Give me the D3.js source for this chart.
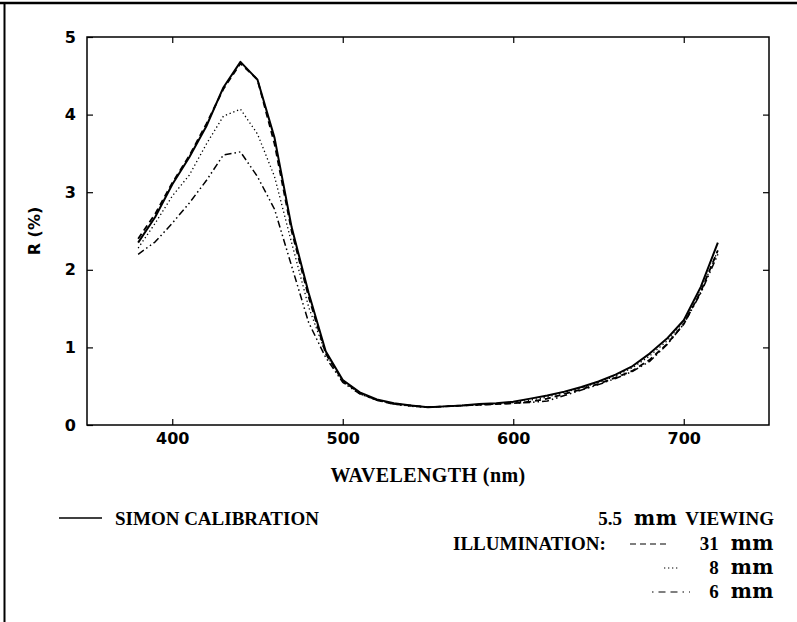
<!DOCTYPE html>
<html>
<head>
<meta charset="utf-8">
<script src="https://cdn.jsdelivr.net/npm/d3@7"></script>
<style>
  body { margin: 0; background: #fff; }
  svg { display: block; }
</style>
</head>
<body>
<div id="chart"></div>
<script>
// wavelength samples (nm)
const wavelengths = [380, 390, 400, 410, 420, 430, 440, 450, 460, 470, 480, 490, 500, 510, 520, 530, 540, 550,
    560, 570, 580, 590, 600, 610, 620, 630, 640, 650, 660, 670, 680, 690, 700, 710, 720];

// reflectance R (%)
const simonCalibration = [2.35, 2.68, 3.10, 3.45, 3.85, 4.35, 4.68, 4.45, 3.70, 2.55, 1.70, 0.95, 0.58, 0.42, 0.33, 0.28, 0.25, 0.23,
    0.24, 0.25, 0.27, 0.28, 0.30, 0.34, 0.38, 0.43, 0.49, 0.56, 0.65, 0.76, 0.92, 1.11, 1.35, 1.78, 2.35];
const illum31mm = [2.40, 2.72, 3.12, 3.47, 3.88, 4.33, 4.66, 4.45, 3.62, 2.50, 1.65, 0.92, 0.57, 0.41, 0.32, 0.27, 0.25, 0.23,
    0.24, 0.25, 0.26, 0.27, 0.28, 0.30, 0.34, 0.40, 0.46, 0.53, 0.61, 0.70, 0.84, 1.04, 1.30, 1.72, 2.25];
const illum8mm = [2.28, 2.60, 2.95, 3.22, 3.62, 3.98, 4.07, 3.75, 3.20, 2.35, 1.52, 0.92, 0.56, 0.40, 0.32, 0.27, 0.24, 0.23,
    0.24, 0.25, 0.26, 0.27, 0.29, 0.32, 0.36, 0.42, 0.48, 0.55, 0.63, 0.74, 0.89, 1.08, 1.33, 1.72, 2.25];
const illum6mm = [2.20, 2.36, 2.60, 2.86, 3.15, 3.48, 3.52, 3.20, 2.78, 2.05, 1.32, 0.87, 0.55, 0.40, 0.32, 0.27, 0.25, 0.23,
    0.24, 0.25, 0.26, 0.27, 0.28, 0.29, 0.31, 0.38, 0.45, 0.52, 0.60, 0.69, 0.82, 1.03, 1.30, 1.70, 2.20];

// tick labels
const xTicks = [400, 500, 600, 700];
const yTicks = [0, 1, 2, 3, 4, 5];

const width = 797, height = 622;
const margin = {left: 87, right: 28, top: 37, bottom: 197};

const svg = d3.select("#chart")
    .append("svg")
    .attr("width", width)
    .attr("height", height);

//Outer page frame (top and left edges only)
svg.append("line").attr("x1", 0).attr("x2", width).attr("y1", 3).attr("y2", 3)
    .attr("stroke", "#000").attr("stroke-width", 2.5);
svg.append("line").attr("x1", 4.5).attr("x2", 4.5).attr("y1", 3).attr("y2", height)
    .attr("stroke", "#000").attr("stroke-width", 2);

const xScale = d3.scaleLinear().domain([350, 750]).range([margin.left, width - margin.right]);
const yScale = d3.scaleLinear().domain([0, 5]).range([height - margin.bottom, margin.top]);

//Axes, ticks pointing inwards
const sansFont = "'DejaVu Sans', sans-serif";
const serifFont = "'Liberation Serif', 'DejaVu Serif', serif";

function styleAxis(g) {
    g.select(".domain").remove();
    g.selectAll(".tick line").attr("stroke", "#000").attr("stroke-width", 1.2);
    g.selectAll(".tick text").attr("fill", "#000")
        .style("font-family", sansFont).style("font-weight", "bold").style("font-size", "16px");
}

svg.append("g")
    .attr("transform", "translate(0," + yScale(0) + ")")
    .call(d3.axisBottom(xScale).tickValues(xTicks).tickSize(-6).tickPadding(8))
    .call(styleAxis);
svg.append("g")
    .attr("transform", "translate(0," + yScale(5) + ")")
    .call(d3.axisTop(xScale).tickValues(xTicks).tickSize(-6).tickFormat(""))
    .call(styleAxis);
svg.append("g")
    .attr("transform", "translate(" + xScale(350) + ",0)")
    .call(d3.axisLeft(yScale).tickValues(yTicks).tickSize(-6).tickPadding(11).tickFormat(d3.format("d")))
    .call(styleAxis);
svg.append("g")
    .attr("transform", "translate(" + xScale(750) + ",0)")
    .call(d3.axisRight(yScale).tickValues(yTicks.slice(1, 5)).tickSize(-6).tickFormat(""))
    .call(styleAxis);

//Plot frame
svg.append("rect")
    .attr("x", xScale(350)).attr("y", yScale(5))
    .attr("width", xScale(750) - xScale(350)).attr("height", yScale(0) - yScale(5))
    .attr("fill", "none").attr("stroke", "#000").attr("stroke-width", 1.5);

//Series
const series = [
    {name: "SIMON CALIBRATION", values: simonCalibration, dash: null, width: 2},
    {name: "31", values: illum31mm, dash: "6,4", width: 1.8},
    {name: "8", values: illum8mm, dash: "1.3,2.7", width: 1.3},
    {name: "6", values: illum6mm, dash: "7,3,1.5,3,1.5,3", width: 1.5}
];

const line = d3.line()
    .x((d, i) => xScale(wavelengths[i]))
    .y(d => yScale(d));

svg.selectAll("path.series")
    .data(series)
    .join("path")
    .attr("class", "series")
    .attr("d", d => line(d.values))
    .attr("fill", "none")
    .attr("stroke", "#000")
    .attr("stroke-width", d => d.width)
    .attr("stroke-dasharray", d => d.dash)
    .attr("stroke-linejoin", "round");

//Axis titles
svg.append("text")
    .attr("x", 428).attr("y", 482)
    .attr("text-anchor", "middle")
    .style("font-family", serifFont).style("font-weight", "bold").style("font-size", "20px")
    .style("letter-spacing", "0.4px")
    .text("WAVELENGTH (nm)");

svg.append("text")
    .attr("transform", "translate(40,231) rotate(-90)")
    .attr("text-anchor", "middle")
    .style("font-family", sansFont).style("font-weight", "bold").style("font-size", "16px")
    .text("R (%)");

//Legend
const legendFont = g => g.style("font-family", serifFont).style("font-weight", "bold").style("font-size", "19px");
// the wide lowercase "mm" of the original
const mmSpan = t => t.append("tspan").attr("dx", 12)
    .style("font-family", "'DejaVu Serif', serif").style("font-size", "20px").style("letter-spacing", "0.5px")
    .text("mm");

svg.append("line").attr("x1", 59).attr("x2", 102).attr("y1", 518).attr("y2", 518)
    .attr("stroke", "#000").attr("stroke-width", 1.5);
svg.append("text").attr("x", 115).attr("y", 525).call(legendFont).text(series[0].name);

const viewing = svg.append("text").attr("x", 774).attr("y", 525).attr("text-anchor", "end").call(legendFont);
viewing.append("tspan").text("5.5");
viewing.call(mmSpan);
viewing.append("tspan").attr("dx", 8).text("VIEWING");

svg.append("text").attr("x", 453).attr("y", 550).call(legendFont).text("ILLUMINATION:");

const legendRows = [
    {s: series[1], x1: 630, x2: 668, y: 550},
    {s: series[2], x1: 664, x2: 678, y: 574},
    {s: series[3], x1: 652, x2: 690, y: 598}
];
legendRows.forEach(r => {
    svg.append("line")
        .attr("x1", r.x1).attr("x2", r.x2).attr("y1", r.y - 6).attr("y2", r.y - 6)
        .attr("stroke", "#000").attr("stroke-width", 1.2)
        .attr("stroke-dasharray", r.s === series[3] ? "1.5,5,7,5,7,5" : r.s.dash);
    const t = svg.append("text").attr("x", 774).attr("y", r.y).attr("text-anchor", "end").call(legendFont);
    t.append("tspan").text(r.s.name);
    t.call(mmSpan);
});
</script>
</body>
</html>
